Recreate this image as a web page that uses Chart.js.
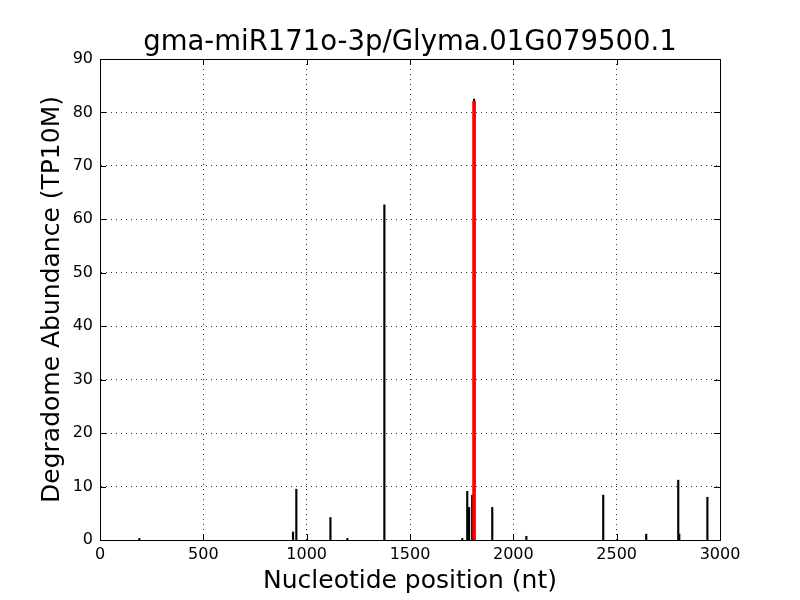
<!DOCTYPE html>
<html>
<head>
<meta charset="utf-8">
<script src="https://cdn.jsdelivr.net/npm/chart.js@4.4.1/dist/chart.umd.min.js"></script>
<style>
  html, body { margin: 0; padding: 0; background: #fff; }
  #wrap { width: 800px; height: 600px; }
</style>
</head>
<body>
<div id="wrap"><canvas id="degChart" width="800" height="600"></canvas></div>
<script>
// nucleotide positions and abundances (TP10M)
var positions = [190, 934, 950, 1115, 1197, 1376, 1753, 1777, 1781, 1786, 1801, 1810, 1898, 2063, 2435, 2643, 2798, 2803, 2939];
var abundance = [0.3, 1.5, 9.5, 4.2, 0.3, 62.7, 0.3, 9.1, 1.0, 6.1, 8.4, 82.5, 6.1, 0.7, 8.4, 1.1, 11.2, 1.1, 8.0];
// cleavage site of the miRNA
var sitePos = [1810];
var siteVal = [82.1];
var xTicks = [0, 500, 1000, 1500, 2000, 2500, 3000];
var yTicks = [0, 10, 20, 30, 40, 50, 60, 70, 80, 90];

var font = "'DejaVu Sans', sans-serif";

var toPoints = function(xs, ys) {
  return xs.map(function(x, i) { return { x: x, y: ys[i] }; });
};

// inward ticks on all four sides plus the black frame (matplotlib classic look)
var framePlugin = {
  id: 'frame',
  afterDraw: function(chart) {
    var ctx = chart.ctx, a = chart.chartArea;
    var xs = chart.scales.x, ys = chart.scales.y;
    var len = 6;
    ctx.save();
    ctx.strokeStyle = '#000';
    ctx.lineWidth = 1;
    ctx.beginPath();
    xTicks.forEach(function(v) {
      var px = Math.round(xs.getPixelForValue(v)) + 0.5;
      ctx.moveTo(px, a.bottom); ctx.lineTo(px, a.bottom - len);
      ctx.moveTo(px, a.top); ctx.lineTo(px, a.top + len);
    });
    yTicks.forEach(function(v) {
      var py = Math.round(ys.getPixelForValue(v)) + 0.5;
      ctx.moveTo(a.left, py); ctx.lineTo(a.left + len, py);
      ctx.moveTo(a.right, py); ctx.lineTo(a.right - len, py);
    });
    ctx.stroke();
    ctx.strokeRect(Math.round(a.left) + 0.5, Math.round(a.top) + 0.5,
                   Math.round(a.right - a.left), Math.round(a.bottom - a.top));
    ctx.restore();
  }
};

new Chart(document.getElementById('degChart'), {
  type: 'bar',
  data: {
    datasets: [
      {
        label: 'site',
        data: toPoints(sitePos, siteVal),
        backgroundColor: '#ff0000',
        borderWidth: 0,
        barThickness: 3
      },
      {
        label: 'degradome',
        data: toPoints(positions, abundance),
        backgroundColor: '#000000',
        borderWidth: 0,
        barThickness: 1.5
      }
    ]
  },
  options: {
    responsive: false,
    animation: false,
    grouped: false,
    layout: { padding: { top: 26, right: 0, bottom: 0, left: 20 } },
    plugins: {
      legend: { display: false },
      tooltip: { enabled: false },
      title: {
        display: true,
        text: 'gma-miR171o-3p/Glyma.01G079500.1',
        color: '#000',
        font: { family: font, size: 27.5, weight: 'normal', lineHeight: 1.2 },
        padding: { top: 0, bottom: 0 }
      }
    },
    scales: {
      x: {
        type: 'linear',
        offset: false,
        min: 0,
        max: 3000,
        afterFit: function(s) { s.height = 60; },
        afterBuildTicks: function(s) { s.ticks = xTicks.map(function(v) { return { value: v }; }); },
        grid: { offset: false, color: '#000', lineWidth: 0.8, drawTicks: false },
        border: { display: true, color: '#000', dash: [1, 4] },
        ticks: {
          color: '#000', padding: 5, maxRotation: 0, font: { family: font, size: 16 },
          callback: function(v) { return String(v); }
        },
        title: {
          display: true,
          text: 'Nucleotide position (nt)',
          color: '#000',
          font: { family: font, size: 25, lineHeight: 1.2 },
          padding: { top: 0, bottom: 4 }
        }
      },
      y: {
        min: 0,
        max: 90,
        afterFit: function(s) { s.width = 80; },
        afterBuildTicks: function(s) { s.ticks = yTicks.map(function(v) { return { value: v }; }); },
        grid: { offset: false, color: '#000', lineWidth: 0.8, drawTicks: false },
        border: { display: true, color: '#000', dash: [1, 4] },
        ticks: { color: '#000', padding: 7, font: { family: font, size: 16 } },
        title: {
          display: true,
          text: 'Degradome Abundance (TP10M)',
          color: '#000',
          font: { family: font, size: 25, lineHeight: 1.2 },
          padding: { top: 17, bottom: 0 }
        }
      },
      // empty right-hand axis that only keeps the right margin
      yRight: {
        position: 'right',
        min: 0,
        max: 90,
        afterFit: function(s) { s.width = 80; },
        grid: { display: false, drawTicks: false },
        border: { display: false },
        ticks: { display: false }
      }
    }
  },
  plugins: [framePlugin]
});
</script>
</body>
</html>
